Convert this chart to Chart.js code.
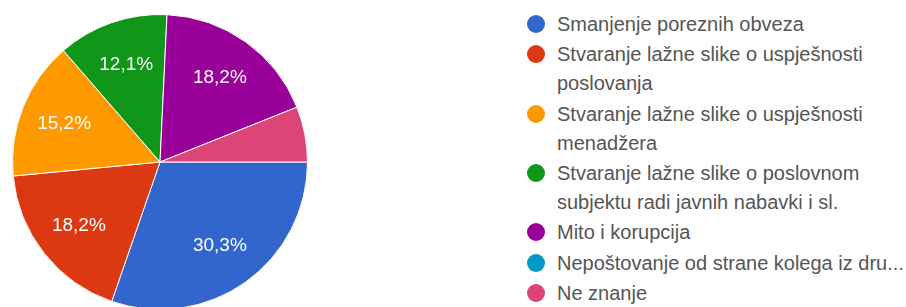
<!DOCTYPE html>
<html>
<head>
<meta charset="utf-8">
<script src="https://cdn.jsdelivr.net/npm/chart.js@4.4.1/dist/chart.umd.min.js"></script>
<style>
    body { margin: 0; background: #fff; width: 906px; height: 307px; overflow: hidden; position: relative; }
    .pie-box { position: absolute; left: 12px; top: 14px; width: 296px; height: 296px; }
    .legend { position: absolute; left: 527px; top: 10px; margin: 0; padding: 0; list-style: none;
              font-family: "Liberation Sans", Arial, sans-serif; font-size: 20px; color: #555; }
    .legend li { display: flex; align-items: flex-start; margin-bottom: 1px; }
    .legend .dot { flex: none; width: 18px; height: 18px; border-radius: 50%; margin-top: 5px; margin-right: 12px; }
    .legend .txt { line-height: 29.2px; white-space: nowrap; }
</style>
</head>
<body>
<div class="pie-box"><canvas id="pieChart"></canvas></div>
<ul class="legend" id="legend"></ul>
<script>
// answers (out of 33 responses)
const categories = [
    ['Smanjenje poreznih obveza'],
    ['Stvaranje lažne slike o uspješnosti', 'poslovanja'],
    ['Stvaranje lažne slike o uspješnosti', 'menadžera'],
    ['Stvaranje lažne slike o poslovnom', 'subjektu radi javnih nabavki i sl.'],
    ['Mito i korupcija'],
    ['Nepoštovanje od strane kolega iz dru...'],
    ['Ne znanje']
];
const counts = [10, 6, 5, 4, 6, 0, 2];
const colors = ['#3366cc', '#dc3912', '#ff9900', '#109618', '#990099', '#0099c6', '#dd4477'];

// percent labels inside the slices, like google forms
const sliceLabels = {
    id: 'sliceLabels',
    afterDatasetsDraw(chart) {
        const ctx = chart.ctx;
        const meta = chart.getDatasetMeta(0);
        const data = chart.data.datasets[0].data;
        const total = data.reduce((a, b) => a + b, 0);
        ctx.save();
        ctx.font = '19px "Liberation Sans", Arial, sans-serif';
        ctx.fillStyle = '#fff';
        ctx.textAlign = 'center';
        ctx.textBaseline = 'middle';
        meta.data.forEach((arc, i) => {
            const pct = data[i] / total * 100;
            if (pct < 8) return;
            const p = arc.getProps(['x', 'y', 'startAngle', 'endAngle', 'outerRadius'], true);
            const mid = (p.startAngle + p.endAngle) / 2;
            const r = p.outerRadius * 0.7;
            ctx.fillText(pct.toFixed(1).replace('.', ',') + '%', p.x + Math.cos(mid) * r, p.y + Math.sin(mid) * r);
        });
        ctx.restore();
    }
};

const ctx = document.getElementById('pieChart').getContext('2d');
const pieChart = new Chart(ctx, {
    type: 'pie',
    data: {
        labels: categories,
        datasets: [{
            data: counts,
            backgroundColor: colors,
            borderColor: '#fff',
            borderWidth: 1
        }]
    },
    options: {
        responsive: true,
        maintainAspectRatio: false,
        devicePixelRatio: 1,
        animation: false,
        rotation: 90,
        plugins: {
            legend: { display: false },
            tooltip: { enabled: false }
        }
    },
    plugins: [sliceLabels]
});

// html legend built from the chart data
const legend = document.getElementById('legend');
pieChart.data.labels.forEach((lines, i) => {
    const li = document.createElement('li');
    li.innerHTML = `
        <span class="dot" style="background:${pieChart.data.datasets[0].backgroundColor[i]}"></span>
        <span class="txt">${lines.join('<br>')}</span>
    `;
    legend.appendChild(li);
});
</script>
</body>
</html>
